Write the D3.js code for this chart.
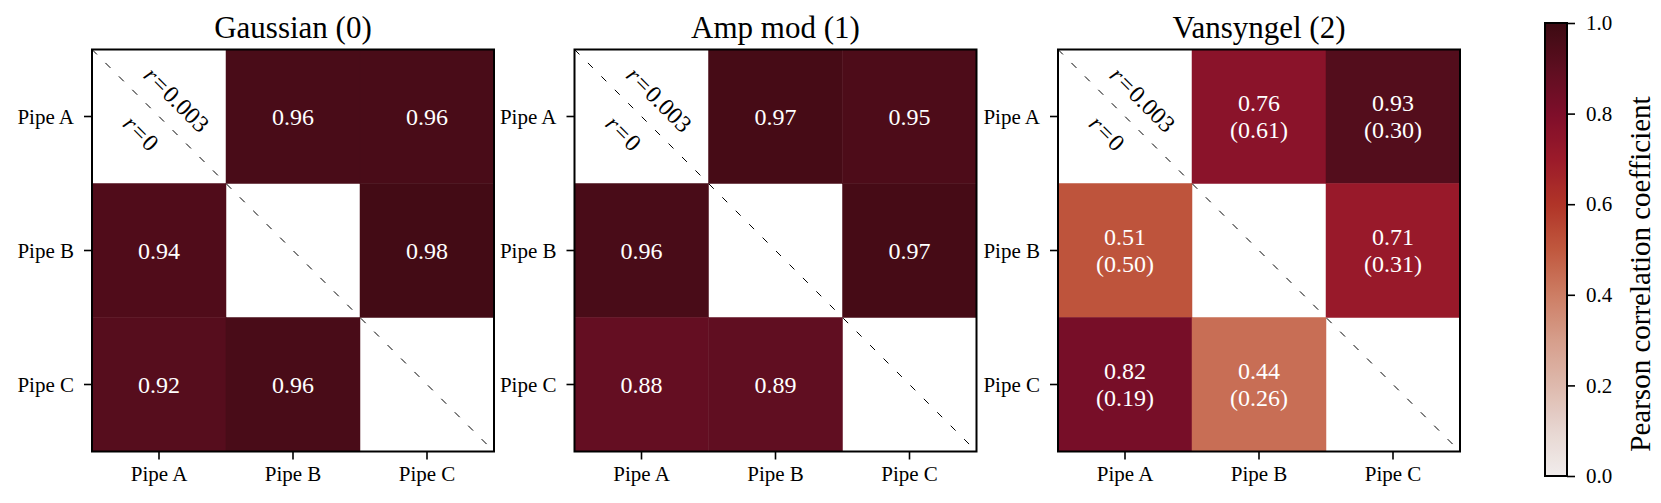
<!DOCTYPE html>
<html>
<head>
<meta charset="utf-8">
<script src="https://cdn.jsdelivr.net/npm/d3@7/dist/d3.min.js"></script>
<style>
  body { margin: 0; background: #fff; }
  svg { display: block; }
  svg text, svg tspan { font-family: "Liberation Serif", "Times New Roman", serif !important; }
</style>
</head>
<body>
<svg id="chart" width="1661" height="503"></svg>
<script>
// ---------- data ----------
const categories = ["Pipe A", "Pipe B", "Pipe C"];
const panelTitles = ["Gaussian (0)", "Amp mod (1)", "Vansyngel (2)"];
const gaussianValues = [[null, 0.96, 0.96], [0.94, null, 0.98], [0.92, 0.96, null]];
const ampModValues = [[null, 0.97, 0.95], [0.96, null, 0.97], [0.88, 0.89, null]];
const vansyngelValues = [[null, 0.76, 0.93], [0.51, null, 0.71], [0.82, 0.44, null]];
const vansyngelSecondary = [[null, 0.61, 0.30], [0.50, null, 0.31], [0.19, 0.26, null]];
const colorbarTicks = [0, 0.2, 0.4, 0.6, 0.8, 1.0];
const colorbarLabel = "Pearson correlation coefficient";
const upperLabel = "0.003";
const lowerLabel = "0";
// approximate cmocean "amp" colormap stops
const cmapStops = [0, 0.1, 0.2, 0.3, 0.4, 0.5, 0.6, 0.7, 0.8, 0.9, 1.0];
const cmapColors = ["#f1edec", "#e7d6d1", "#deb9ad", "#d69e8b", "#cd7d64", "#c0583e",
                    "#b03428", "#9b1a2a", "#7e0e2a", "#5d0e20", "#3c0a12"];

const panels = [
  { title: panelTitles[0], values: gaussianValues, secondary: null },
  { title: panelTitles[1], values: ampModValues, secondary: null },
  { title: panelTitles[2], values: vansyngelValues, secondary: vansyngelSecondary }
];

// ---------- layout ----------
const FONT = '"Liberation Serif", "Times New Roman", serif';
const panelX = [92, 574.5, 1058];
const panelTop = 49.5;
const panelSize = 402;

const color = d3.scaleLinear().domain(cmapStops).range(cmapColors)
  .interpolate(d3.interpolateRgb).clamp(true);

const svg = d3.select("#chart").attr("font-family", FONT);

panels.forEach((p, pi) => {
  const g = svg.append("g").attr("transform", `translate(${panelX[pi]},${panelTop})`);
  const x = d3.scaleBand().domain(categories).range([0, panelSize]);
  const y = d3.scaleBand().domain(categories).range([0, panelSize]);
  const xl = d3.scaleLinear().domain([-0.5, 2.5]).range([0, panelSize]);
  const yl = d3.scaleLinear().domain([-0.5, 2.5]).range([0, panelSize]);

  const cells = [];
  p.values.forEach((row, ri) => row.forEach((v, ci) => {
    cells.push({ row: categories[ri], col: categories[ci], v,
                 s: p.secondary ? p.secondary[ri][ci] : null });
  }));

  g.selectAll("rect.cell").data(cells.filter(d => d.v !== null)).join("rect")
    .attr("class", "cell")
    .attr("x", d => x(d.col)).attr("y", d => y(d.row))
    .attr("width", x.bandwidth()).attr("height", y.bandwidth())
    .attr("fill", d => color(d.v))
    .attr("stroke", d => color(d.v)).attr("stroke-width", 0.5);

  // diagonal dashed line
  g.append("line")
    .attr("x1", xl(-0.5)).attr("y1", yl(-0.5))
    .attr("x2", xl(2.5)).attr("y2", yl(2.5))
    .attr("stroke", "#000").attr("stroke-width", 1)
    .attr("stroke-dasharray", "7,12");

  // annotations
  const ann = [
    { x: 0.13, y: -0.125, num: upperLabel },
    { x: -0.135, y: 0.125, num: lowerLabel }
  ];
  ann.forEach(a => {
    const t = g.append("text")
      .attr("transform", `translate(${xl(a.x)},${yl(a.y)}) rotate(45)`)
      .attr("text-anchor", "middle").attr("dominant-baseline", "central")
      .attr("font-family", FONT)
      .attr("font-size", 24).attr("fill", "#000");
    t.append("tspan").attr("font-style", "italic").text("r");
    t.append("tspan").attr("dx", 2).text("=");
    t.append("tspan").attr("dx", 2).text(a.num);
  });

  // cell texts
  const txt = g.selectAll("text.val").data(cells.filter(d => d.v !== null)).join("text")
    .attr("class", "val")
    .attr("x", d => x(d.col) + x.bandwidth() / 2)
    .attr("y", d => y(d.row) + y.bandwidth() / 2)
    .attr("text-anchor", "middle")
    .attr("font-family", FONT)
    .attr("font-size", 24).attr("fill", "#fff");
  txt.each(function(d) {
    const t = d3.select(this);
    const cx = x(d.col) + x.bandwidth() / 2;
    if (d.s === null) {
      t.append("tspan").attr("x", cx).attr("dy", 8).text(d.v.toFixed(2));
    } else {
      t.append("tspan").attr("x", cx).attr("dy", -5.5).text(d.v.toFixed(2));
      t.append("tspan").attr("x", cx).attr("dy", 27).text(`(${d.s.toFixed(2)})`);
    }
  });

  // axes
  const ax = g.append("g").attr("transform", `translate(0,${panelSize})`)
    .call(d3.axisBottom(x).tickSize(8).tickPadding(7));
  const ay = g.append("g").call(d3.axisLeft(y).tickSize(8).tickPadding(10));
  [ax, ay].forEach(a => {
    a.attr("font-family", FONT);
    a.select(".domain").remove();
    a.selectAll(".tick line").attr("stroke", "#000").attr("stroke-width", 1.6);
    a.selectAll(".tick text").attr("font-size", 21).attr("fill", "#000")
      .attr("font-family", FONT);
  });
  ay.selectAll(".tick text").attr("dy", "0.35em");

  // frame
  g.append("rect").attr("x", 0).attr("y", 0).attr("width", panelSize).attr("height", panelSize)
    .attr("fill", "none").attr("stroke", "#000").attr("stroke-width", 2);

  // title
  g.append("text").attr("x", panelSize / 2).attr("y", 38 - panelTop)
    .attr("text-anchor", "middle").attr("font-size", 31).attr("fill", "#000")
    .attr("font-family", FONT)
    .text(p.title);
});

// ---------- colorbar ----------
const cbX = 1545, cbW = 22, cbTop = 23, cbBottom = 476;
const cbScale = d3.scaleLinear().domain([0, 1]).range([cbBottom, cbTop]);
const defs = svg.append("defs");
const grad = defs.append("linearGradient").attr("id", "cbgrad")
  .attr("x1", 0).attr("y1", 1).attr("x2", 0).attr("y2", 0);
d3.range(0, 1.0001, 0.02).forEach(t => {
  grad.append("stop").attr("offset", t).attr("stop-color", color(t));
});
svg.append("rect").attr("x", cbX).attr("y", cbTop).attr("width", cbW)
  .attr("height", cbBottom - cbTop).attr("fill", "url(#cbgrad)")
  .attr("stroke", "#000").attr("stroke-width", 2);
const cbAxis = svg.append("g").attr("transform", `translate(${cbX + cbW},0)`)
  .call(d3.axisRight(cbScale).tickValues(colorbarTicks).tickFormat(d3.format(".1f"))
    .tickSize(8).tickPadding(11));
cbAxis.attr("font-family", FONT);
cbAxis.select(".domain").remove();
cbAxis.selectAll(".tick line").attr("stroke", "#000").attr("stroke-width", 1.6);
cbAxis.selectAll(".tick text").attr("font-size", 21).attr("fill", "#000")
  .attr("font-family", FONT);

svg.append("text")
  .attr("transform", `translate(1640,${274}) rotate(-90)`)
  .attr("text-anchor", "middle").attr("dominant-baseline", "central")
  .attr("font-family", FONT)
  .attr("font-size", 29).attr("fill", "#000")
  .text(colorbarLabel);
</script>
</body>
</html>
